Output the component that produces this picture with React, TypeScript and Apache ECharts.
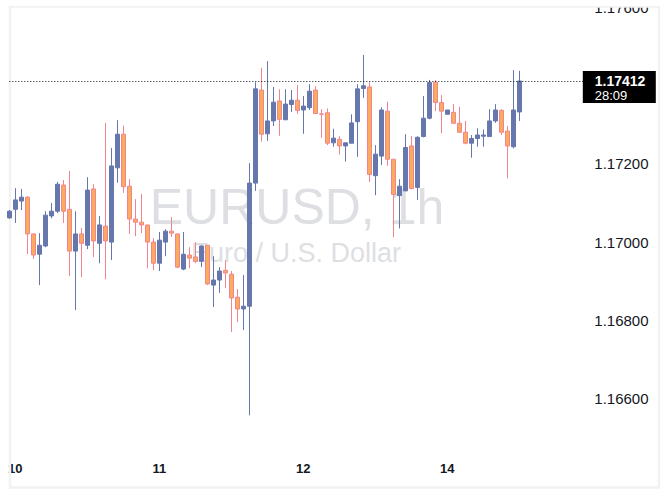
import { useEffect, useRef } from "react";
import * as echarts from "echarts";

// hourly sessions shown on the chart (day of month, first hour, bar count)
const SESSION_DAYS = ["09", "10", "11", "12", "14"];
const SESSION_FIRST_HOUR = [23, 0, 0, 0, 0];
const SESSION_BARS = [1, 24, 24, 24, 13];
const FUTURE_BARS = 11;

const OPEN = [
  1.17062, 1.17084, 1.17105, 1.17115, 1.17021, 1.16969, 1.1699, 1.17067, 1.17079, 1.17146,
  1.17084, 1.16977, 1.17021, 1.16992, 1.17136, 1.16997, 1.17041, 1.17, 1.1719, 1.17276,
  1.17143, 1.17059, 1.17051, 1.17044, 1.17, 1.16946, 1.17, 1.17028, 1.17021, 1.16931,
  1.16967, 1.16962, 1.16951, 1.16992, 1.1689, 1.16903, 1.16928, 1.16918, 1.16859, 1.16829,
  1.16836, 1.17151, 1.17389, 1.17277, 1.1731, 1.17361, 1.17313, 1.17352, 1.17363, 1.17338,
  1.17344, 1.17389, 1.17328, 1.17331, 1.17254, 1.17263, 1.17246, 1.17253, 1.17308, 1.17393,
  1.17397, 1.1717, 1.1722, 1.17335, 1.17212, 1.17119, 1.17131, 1.17246, 1.1714, 1.1727,
  1.17317, 1.17409, 1.17357, 1.17327, 1.17332, 1.17304, 1.17281, 1.17253, 1.17265, 1.17271,
  1.1727, 1.1731, 1.17337, 1.17284, 1.17244, 1.17333,
];

const CLOSE = [
  1.17079, 1.17108, 1.17115, 1.17021, 1.16967, 1.16992, 1.17069, 1.17079, 1.17148, 1.17079,
  1.16977, 1.17021, 1.16997, 1.17133, 1.17003, 1.17044, 1.17003, 1.17195, 1.17276, 1.17142,
  1.17059, 1.17051, 1.17044, 1.17, 1.16946, 1.17005, 1.17028, 1.17023, 1.16936, 1.16969,
  1.16959, 1.16951, 1.1699, 1.16893, 1.16903, 1.16926, 1.16921, 1.16857, 1.16829, 1.16836,
  1.17151, 1.17392, 1.17276, 1.1731, 1.17358, 1.17314, 1.17353, 1.17363, 1.17337, 1.17348,
  1.17386, 1.17329, 1.17327, 1.17253, 1.17266, 1.17246, 1.17254, 1.17305, 1.17392, 1.174,
  1.17173, 1.17225, 1.17338, 1.17212, 1.17122, 1.17143, 1.17242, 1.17137, 1.17268, 1.17317,
  1.17408, 1.17357, 1.17335, 1.17338, 1.17304, 1.17281, 1.17253, 1.17265, 1.17274, 1.17274,
  1.1731, 1.17338, 1.17281, 1.17246, 1.17338, 1.17412,
];

const LOW = [
  1.1706, 1.17049, 1.17082, 1.16969, 1.16957, 1.1689, 1.16987, 1.17061, 1.17074, 1.17049,
  1.16913, 1.16826, 1.1691, 1.16982, 1.16962, 1.16946, 1.16905, 1.16954, 1.17152, 1.17126,
  1.17021, 1.17015, 1.17023, 1.16933, 1.16928, 1.16926, 1.16964, 1.17013, 1.16933, 1.16928,
  1.16933, 1.16946, 1.16936, 1.1689, 1.16834, 1.1687, 1.16882, 1.1677, 1.16795, 1.16775,
  1.16557, 1.17131, 1.17257, 1.17259, 1.17297, 1.17272, 1.17312, 1.17333, 1.17328, 1.17277,
  1.17338, 1.17329, 1.17267, 1.17248, 1.17244, 1.17224, 1.17206, 1.17253, 1.17218, 1.17369,
  1.17154, 1.1712, 1.17197, 1.17195, 1.17012, 1.17035, 1.17131, 1.17135, 1.17108, 1.17268,
  1.17314, 1.17335, 1.17278, 1.17327, 1.17304, 1.1728, 1.1725, 1.17216, 1.17244, 1.17244,
  1.1727, 1.17305, 1.17274, 1.17163, 1.1724, 1.1731,
];

const HIGH = [
  1.17082, 1.17138, 1.17136, 1.17118, 1.17023, 1.17023, 1.17079, 1.171, 1.17154, 1.17159,
  1.17182, 1.17079, 1.17036, 1.17166, 1.17148, 1.17067, 1.17305, 1.17241, 1.17312, 1.17298,
  1.17161, 1.1711, 1.17123, 1.17044, 1.1701, 1.17026, 1.17033, 1.17064, 1.17023, 1.17026,
  1.16987, 1.17, 1.16992, 1.16992, 1.16964, 1.16936, 1.16954, 1.16926, 1.1688, 1.16916,
  1.17202, 1.17409, 1.17446, 1.17463, 1.17397, 1.17391, 1.17391, 1.17389, 1.17402, 1.17374,
  1.17404, 1.17399, 1.1734, 1.17342, 1.1729, 1.17271, 1.17254, 1.17327, 1.17404, 1.17479,
  1.17409, 1.17248, 1.17345, 1.17359, 1.17212, 1.17161, 1.17276, 1.17271, 1.17271, 1.17374,
  1.17415, 1.17415, 1.17376, 1.17338, 1.17353, 1.17346, 1.1731, 1.17274, 1.17291, 1.17288,
  1.1734, 1.17353, 1.1734, 1.17297, 1.1744, 1.17438,
];

// 1.17400 sits under the last-price tag, so it is not listed
const Y_LABELS = [1.166, 1.168, 1.17, 1.172, 1.176];
const Y_MIN = 1.16371;
const Y_MAX = 1.17604;
const LAST_PRICE = 1.17412;
const COUNTDOWN = "28:09";
const TITLE = "EURUSD, 1h";
const SUBTITLE = "Euro / U.S. Dollar";

const UP = "#6677ad";
const DOWN_BODY = "#fbab5c";
const DOWN_LINE = "#f2848f";
const INK = "#131722";
const WATERMARK = "#dedfe3";
const FONT = "'Liberation Sans', Arial, sans-serif";

const pad = (n: number) => String(n).padStart(2, "0");

function buildCategories() {
  const out: string[] = [];
  SESSION_DAYS.forEach((day, i) => {
    for (let k = 0; k < SESSION_BARS[i]; k++) {
      out.push(`${day} ${pad(SESSION_FIRST_HOUR[i] + k)}:00`);
    }
  });
  // empty hours to the right of the last bar
  const last = SESSION_DAYS.length - 1;
  const nextHour = SESSION_FIRST_HOUR[last] + SESSION_BARS[last];
  for (let k = 0; k < FUTURE_BARS; k++) {
    out.push(`${SESSION_DAYS[last]} ${pad(nextHour + k)}:00`);
  }
  return out;
}

export default function App() {
  const chartRef = useRef<HTMLDivElement>(null);

  useEffect(() => {
    if (!chartRef.current) return;
    const chart = echarts.init(chartRef.current, undefined, { renderer: "svg" });
    const categories = buildCategories();
    const candles = OPEN.map((o, i) => [o, CLOSE[i], LOW[i], HIGH[i]]);

    chart.setOption({
      animation: false,
      backgroundColor: "#ffffff",
      grid: { left: 9.3, right: 84.7, top: 6, bottom: 13 },
      xAxis: {
        type: "category",
        data: categories,
        boundaryGap: false,
        axisLine: { show: false },
        axisTick: { show: false },
        splitLine: { show: false },
        axisLabel: {
          inside: true,
          interval: 0,
          margin: 13,
          color: INK,
          fontFamily: FONT,
          fontSize: 13,
          fontWeight: "bold",
          formatter: (v: string) => (v.endsWith(" 00:00") ? String(Number(v.slice(0, 2))) : ""),
        },
      },
      yAxis: {
        type: "value",
        position: "right",
        min: Y_MIN,
        max: Y_MAX,
        axisLine: { show: false },
        axisTick: { show: false },
        splitLine: { show: false },
        axisLabel: {
          customValues: Y_LABELS,
          margin: 9,
          align: "left",
          color: INK,
          fontFamily: FONT,
          fontSize: 15,
          formatter: (v: number) => v.toFixed(5),
        },
      },
      series: [
        {
          type: "candlestick",
          data: candles,
          barWidth: 4,
          clip: true,
          itemStyle: {
            color: UP,
            color0: DOWN_BODY,
            borderColor: UP,
            borderColor0: DOWN_LINE,
            borderWidth: 1,
          },
          markLine: {
            silent: true,
            precision: 5,
            symbol: ["none", "none"],
            label: { show: false },
            lineStyle: { color: INK, width: 1, type: [1, 2] },
            data: [{ yAxis: LAST_PRICE }],
          },
        },
      ],
    });

    const tagY = chart.convertToPixel({ yAxisIndex: 0 }, LAST_PRICE) as number;
    const plotRight = chart.convertToPixel({ xAxisIndex: 0 }, categories[categories.length - 1]) as number;

    chart.setOption({
      graphic: [
        {
          type: "text",
          x: 297,
          y: 207,
          z: 0,
          silent: true,
          style: { text: TITLE, fill: WATERMARK, fontFamily: FONT, fontSize: 50, align: "center", verticalAlign: "middle" },
        },
        {
          type: "text",
          x: 296,
          y: 253,
          z: 0,
          silent: true,
          style: { text: SUBTITLE, fill: WATERMARK, fontFamily: FONT, fontSize: 27, align: "center", verticalAlign: "middle" },
        },
        {
          type: "rect",
          z: 100,
          silent: true,
          shape: { x: 0, y: 0, width: 670, height: 6 },
          style: { fill: "#ffffff" },
        },
        {
          type: "rect",
          z: 1,
          silent: true,
          shape: { x: 10, y: 6.5, width: 649, height: 481 },
          style: { fill: "none", stroke: "#f1f2f4", lineWidth: 2.5 },
        },
        {
          type: "rect",
          z: 102,
          silent: true,
          shape: { x: plotRight - 2.5, y: tagY - 10, width: 73, height: 32 },
          style: { fill: "#000000" },
        },
        {
          type: "text",
          z: 103,
          x: plotRight + 9.5,
          y: tagY,
          silent: true,
          style: {
            text: LAST_PRICE.toFixed(5),
            fill: "#ffffff",
            fontFamily: FONT,
            fontSize: 14,
            fontWeight: "bold",
            align: "left",
            verticalAlign: "middle",
          },
        },
        {
          type: "text",
          z: 103,
          x: plotRight + 9.5,
          y: tagY + 14.5,
          silent: true,
          style: {
            text: COUNTDOWN,
            fill: "#ffffff",
            fontFamily: FONT,
            fontSize: 13,
            align: "left",
            verticalAlign: "middle",
          },
        },
      ],
    });

    return () => {
      chart.dispose();
    };
  }, []);

  return (
    <div
      ref={chartRef}
      style={{ position: "fixed", left: 0, top: 0, width: 670, height: 501 }}
    />
  );
}
